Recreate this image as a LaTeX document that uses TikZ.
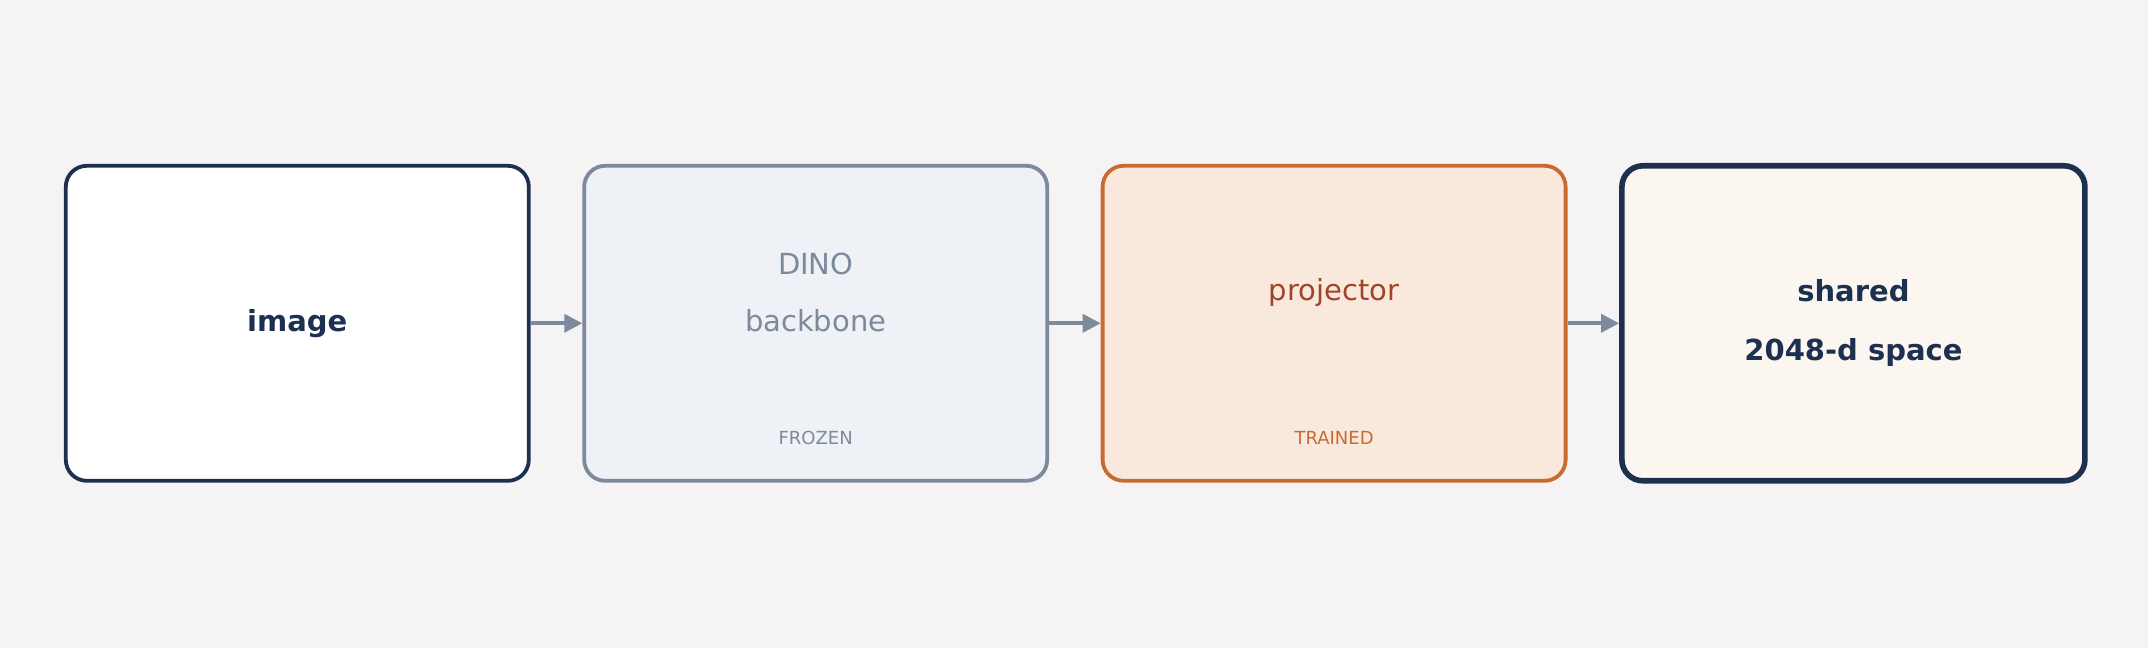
\documentclass[tikz,border=0pt]{standalone}
\usepackage{fontspec}
\setmainfont{DejaVu Sans}
\usepackage{xcolor}
\usetikzlibrary{arrows.meta,positioning}

\definecolor{navy}{HTML}{1E3050}
\definecolor{slate}{HTML}{7D8A9C}
\definecolor{rust}{HTML}{C96A32}
\definecolor{rustdark}{HTML}{A0452A}
\definecolor{frozenfill}{HTML}{EEF1F6}
\definecolor{trainfill}{HTML}{F9E9DC}
\definecolor{spacefill}{HTML}{FBF6F0}
\definecolor{paper}{HTML}{F5F3F4}

\begin{document}
\begin{tikzpicture}[
    stage/.style={draw, rounded corners=10.5pt, minimum width=231.5pt,
      minimum height=157.5pt, line width=1.9pt},
    big/.style={font=\fontsize{14.5}{28.75}\selectfont, align=center},
    bigbold/.style={font=\fontsize{14.5}{29.5}\selectfont\bfseries, align=center},
    tag/.style={font=\fontsize{9}{11}\selectfont},
    flow/.style={draw=slate, line width=1.8pt, -{Triangle[length=9pt,width=9pt]}}
  ]
    \fill[paper] (0,0) rectangle (1074pt,324pt);

    % the four stages
    \node[stage, draw=navy, fill=white, bigbold, text=navy] (img) at (148.65pt,162.35pt) {image};
    \node[stage, draw=slate, fill=frozenfill, right=25.8pt of img] (dino) {};
    \node[stage, draw=rust, fill=trainfill, right=25.8pt of dino] (proj) {};
    \node[stage, draw=navy, fill=spacefill, line width=2.8pt, bigbold, text=navy,
      right=25.8pt of proj] (space) {shared\\2048-d space};

    % texts inside the middle stages
    \node[big, text=slate] (dinotxt) at ([yshift=15.5pt]dino.center) {DINO\\backbone};
    \node[tag, text=slate] (dinotag) at ([yshift=-57.5pt]dino.center) {FROZEN};
    \node[big, text=rustdark] (projtxt) at ([yshift=15.5pt]proj.center) {projector};
    \node[tag, text=rust] (projtag) at ([yshift=-57.5pt]proj.center) {TRAINED};

    \draw[flow] (img) -- (dino);
    \draw[flow] (dino) -- (proj);
    \draw[flow] (proj) -- (space);
  \end{tikzpicture}
\end{document}
